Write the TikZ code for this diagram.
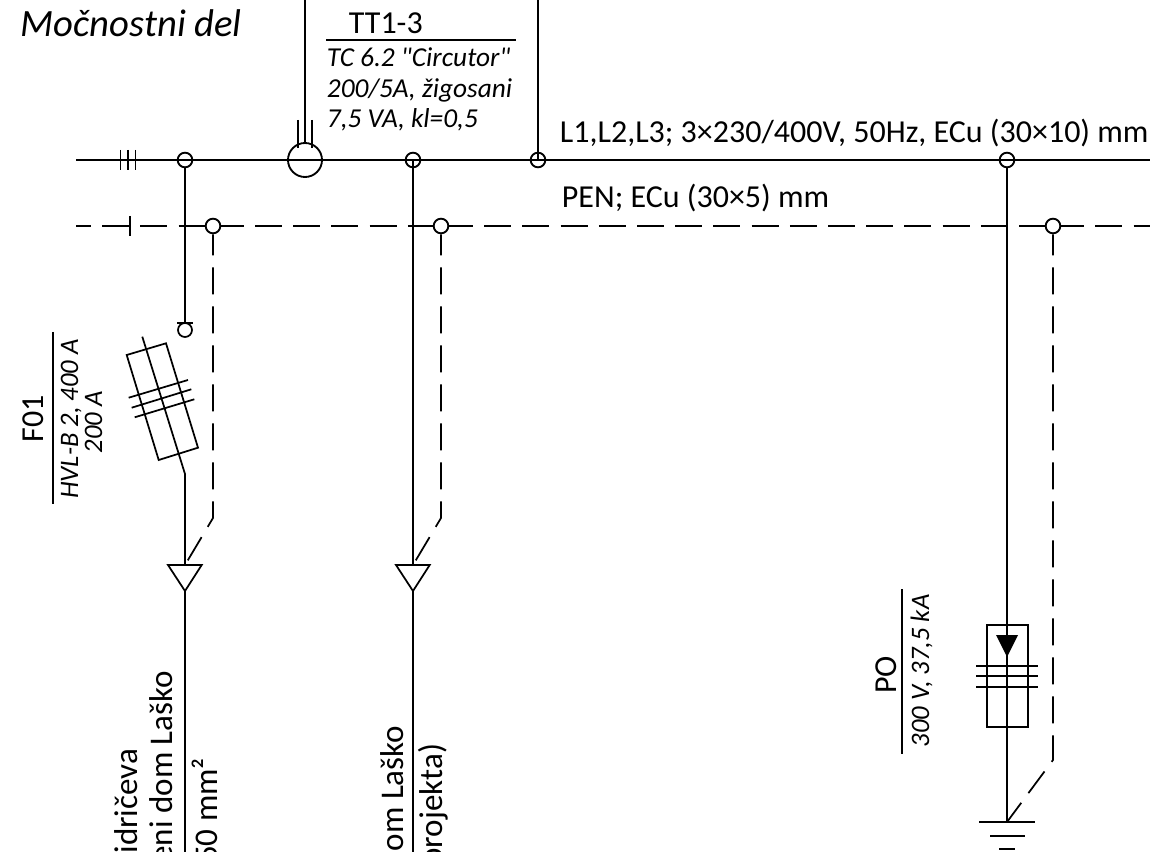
\documentclass[tikz,border=0pt]{standalone}
\usepackage{fontspec}
\setmainfont{Carlito}
\newfontfamily\carlplain{Carlito}
\begin{document}
\begin{tikzpicture}[x=0.75pt,y=-0.75pt,line width=1.4pt,line join=miter,
  pendash/.style={dash pattern=on 20.25pt off 8.4pt},
  branchdash/.style={dash pattern=on 20.25pt off 9pt,dash phase=4.5pt},
  dot/.style={circle,draw,fill=white,inner sep=0pt,minimum size=11pt},
  dotopen/.style={circle,draw,inner sep=0pt,minimum size=11pt},
  thin line/.style={line width=1.3pt},
  lbl/.style={inner sep=0pt,font=\fontsize{24}{28}\selectfont,anchor=base west},
  ilbl/.style={inner sep=0pt,font=\fontsize{20.5}{24}\selectfont\itshape,anchor=base west},
  vlbl/.style={inner sep=0pt,font=\fontsize{24.8}{28}\selectfont,rotate=90,anchor=base east},
  vilbl/.style={inner sep=0pt,font=\fontsize{20}{24}\selectfont\itshape,rotate=90,anchor=base}]
\useasboundingbox (0,0) rectangle (1157,852);
\clip (0,0) rectangle (1157,852);
% free ends
\coordinate (busL) at (76,160); \coordinate (busR) at (1150,160);
\coordinate (penL) at (76,226); \coordinate (penR) at (1150,226);
\coordinate (topA) at (305,0); \coordinate (topB) at (538,0);
% junction symbols
\node[dotopen] (J1) at (185,160) {};
\node[dotopen] (J2) at (413,160) {};
\node[dotopen] (J3) at (538,160) {};
\node[dotopen] (J4) at (1007,160) {};
% buses
\draw (busL) -- (busR);
\draw[pendash,dash phase=9pt] (penL) -- (penR);
\foreach \x in {120.5,128,135.5} \draw[thin line] (\x,150) -- (\x,170);
\draw[thin line] (130,216) -- (130,236);
\node[dot] (P1) at (213,226) {};
\node[dot] (P2) at (441,226) {};
\node[dot] (P3) at (1053,226) {};
% verticals to top
\draw[thin line] (topA) -- (305,143);
\draw[thin line] (topB) -- (J3.center);
\foreach \x in {298,312} \draw[thin line] (\x,120) -- (\x,148);
\node[circle,draw,inner sep=0pt,minimum size=25.5pt] (ta) at (305,160) {};
% branch 1
\coordinate (t1) at (185,565); \coordinate (b1) at (185,852);
\coordinate (f1) at (185,323); \coordinate (f2) at (142.3,336.7); \coordinate (f3) at (185,474);
\draw (J1.south) -- (f1);
\draw[thin line] (177,323) -- (193,323);
\node[circle,draw,inner sep=0pt,minimum size=10.5pt,line width=1.3pt] (o1) at (185,330) {};
\draw[thin line] (f2) -- (f3) -- (t1);
\draw[thin line] (126.7,355) -- (166,343.3) -- (198,447.7) -- (158.7,460) -- cycle;
\draw[thin line] (128.7,397.7) -- (188,380);
\draw[thin line] (131.7,407.7) -- (191.3,389.3);
\draw[thin line] (134.7,417.3) -- (194.3,399.3);
\draw[thin line,branchdash] (P1.south) -- (213,518) -- (t1);
\draw[thin line] (168,565) -- (201.7,565) -- (185,591) -- cycle;
\draw (185,591) -- (b1);
% branch 2
\coordinate (t2) at (413,565); \coordinate (b2) at (413,852);
\draw (J2.center) -- (t2);
\draw[thin line,branchdash] (P2.south) -- (441,518) -- (t2);
\draw[thin line] (396,565) -- (429.7,565) -- (413,591) -- cycle;
\draw (413,591) -- (b2);
% branch 3
\coordinate (g) at (1007,822);
\draw (J4.south) -- (g);
\draw[thin line] (987,625) rectangle (1028,727);
\fill (996,635) -- (1018,635) -- (1007,657) -- cycle;
\foreach \y in {666,676,687} \draw[thin line] (976,\y) -- (1038,\y);
\draw[thin line,branchdash] (P3.south) -- (1053,760) -- (g);
\draw[thin line] (979,822) -- (1035,822);
\draw[thin line] (990,836) -- (1025,836);
\draw[thin line] (999,849) -- (1015,849);
% texts
\node[inner sep=0pt,anchor=base west,font=\fontsize{29}{34}\selectfont\itshape] (title) at (20,37) {Močnostni del};
\node[lbl] (tt) at (348,34) {TT1-3};
\draw[thin line] (326,40) -- (516,40);
\node[ilbl] (t1a) at (326,67) {\carlplain\itshape TC 6.2 "Circutor"};
\node[ilbl] (t1b) at (326,98) {200/5A, žigosani};
\node[ilbl] (t1c) at (326,128) {7,5 VA, kl=0,5};
\node[lbl] (bus1) at (559,143) {L1,L2,L3; 3×230/400V, 50Hz, ECu (30×10) mm};
\node[lbl] (bus2) at (561,208) {PEN; ECu (30×5) mm};
\node[vlbl] (c1) at (137,748) {Kidričeva};
\node[vlbl] (c2) at (172,670) {eni dom Laško};
\node[vlbl] (c3) at (217,757) {50 mm²};
\node[vlbl] (c4) at (403,725) {dom Laško};
\node[vlbl] (c5) at (442,743) {projekta)};
% F01
\node[vlbl,anchor=base,font=\fontsize{24}{28}\selectfont] (f01) at (43,419) {F01};
\draw[thin line] (53,332) -- (53,504);
\node[vilbl] (f01a) at (78,419) {HVL-B 2, 400 A};
\node[vilbl] (f01b) at (102,422.5) {200 A};
% PO
\node[vlbl,anchor=base,font=\fontsize{24}{28}\selectfont] (po) at (896,675) {PO};
\draw[thin line] (902,589) -- (902,754);
\node[vilbl] (poa) at (929,671) {300 V, 37,5 kA};
\end{tikzpicture}
\end{document}
